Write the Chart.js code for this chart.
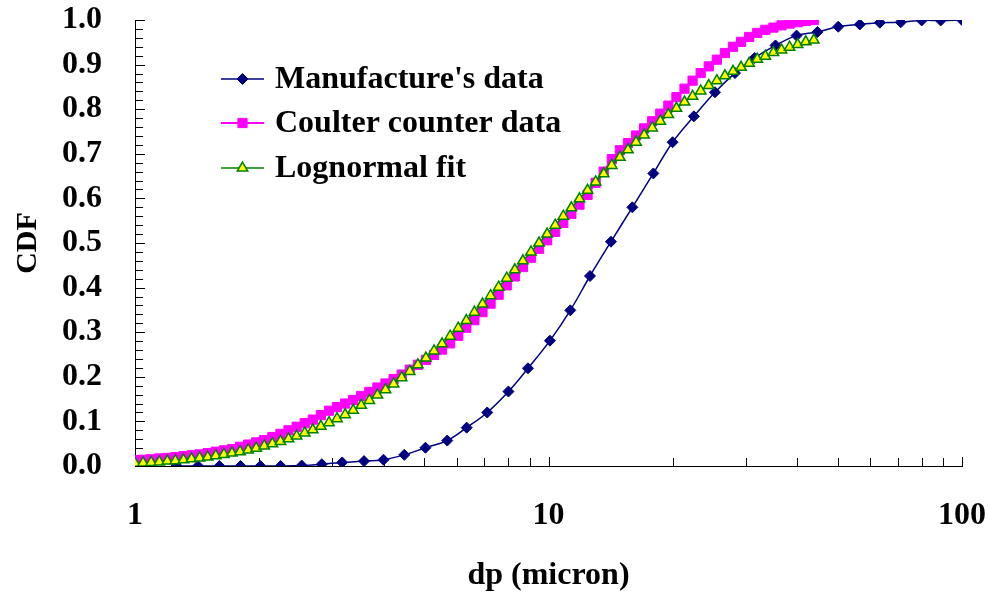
<!DOCTYPE html>
<html>
<head>
<meta charset="utf-8">
<script src="https://cdn.jsdelivr.net/npm/chart.js"></script>
<style>
  html, body { margin: 0; padding: 0; background: #fff; }
  #wrap { width: 990px; height: 595px; }
</style>
</head>
<body>
<div id="wrap"><canvas id="cdf" width="990" height="595"></canvas></div>
<script>
// particle size (micron) and cumulative fraction for each source
const makerSize = [1.26, 1.42, 1.60, 1.80, 2.01, 2.25, 2.53, 2.83, 3.17, 3.58, 3.99, 4.48, 5.04,
  5.69, 6.34, 7.11, 8.00, 8.92, 10.08, 11.29, 12.6, 14.16, 15.95, 17.93, 19.96, 22.47, 25.27,
  28.25, 31.5, 35.4, 39.8, 44.7, 50.2, 56.6, 63.3, 71.1, 79.9, 88.8, 100];
const makerCdf = [0, 0, 0, 0, 0, 0, 0.001, 0.004, 0.008, 0.011, 0.014, 0.025, 0.041,
  0.057, 0.086, 0.120, 0.167, 0.219, 0.281, 0.349, 0.426, 0.503, 0.580, 0.656, 0.726, 0.784, 0.838,
  0.881, 0.915, 0.943, 0.965, 0.973, 0.985, 0.990, 0.994, 0.995, 0.999, 0.999, 1.000];

// Coulter counter channels (shared by the measured data and the fit)
const channelSize = [1.000, 1.046, 1.094, 1.145, 1.197, 1.252, 1.310, 1.370, 1.433, 1.499,
  1.568, 1.641, 1.716, 1.795, 1.878, 1.964, 2.054, 2.149, 2.248, 2.351,
  2.460, 2.573, 2.691, 2.815, 2.945, 3.080, 3.222, 3.370, 3.525, 3.688,
  3.857, 4.035, 4.221, 4.415, 4.618, 4.831, 5.053, 5.286, 5.529, 5.783,
  6.050, 6.328, 6.619, 6.924, 7.243, 7.576, 7.925, 8.290, 8.671, 9.070,
  9.488, 9.924, 10.381, 10.859, 11.359, 11.882, 12.429, 13.001, 13.599, 14.225,
  14.880, 15.565, 16.281, 17.030, 17.814, 18.634, 19.492, 20.389, 21.328, 22.309,
  23.336, 24.410, 25.534, 26.709, 27.938, 29.224, 30.569, 31.976, 33.448, 34.988,
  36.598, 38.283, 40.045, 41.888, 43.816];
const coulterCdf = [0.013, 0.014, 0.015, 0.017, 0.018, 0.020, 0.022, 0.024, 0.026, 0.029,
  0.032, 0.035, 0.038, 0.043, 0.048, 0.053, 0.058, 0.065, 0.072, 0.080,
  0.088, 0.096, 0.104, 0.114, 0.124, 0.132, 0.140, 0.148, 0.157, 0.166,
  0.176, 0.185, 0.195, 0.205, 0.216, 0.227, 0.238, 0.249, 0.261, 0.275,
  0.292, 0.310, 0.327, 0.345, 0.364, 0.384, 0.405, 0.425, 0.446, 0.467,
  0.487, 0.506, 0.525, 0.545, 0.565, 0.586, 0.608, 0.635, 0.660, 0.688,
  0.708, 0.724, 0.741, 0.757, 0.773, 0.790, 0.808, 0.827, 0.846, 0.864,
  0.881, 0.896, 0.911, 0.926, 0.940, 0.951, 0.962, 0.971, 0.978, 0.983,
  0.988, 0.992, 0.995, 0.998, 1.000];
const lognormalCdf = [0.006, 0.007, 0.008, 0.009, 0.011, 0.012, 0.014, 0.016, 0.018, 0.020,
  0.023, 0.026, 0.029, 0.032, 0.036, 0.040, 0.045, 0.050, 0.055, 0.061,
  0.067, 0.074, 0.081, 0.089, 0.097, 0.106, 0.115, 0.125, 0.136, 0.147,
  0.159, 0.171, 0.184, 0.198, 0.212, 0.227, 0.242, 0.258, 0.274, 0.291,
  0.309, 0.326, 0.345, 0.363, 0.382, 0.401, 0.421, 0.440, 0.460, 0.480,
  0.500, 0.520, 0.540, 0.560, 0.579, 0.599, 0.618, 0.637, 0.655, 0.674,
  0.692, 0.709, 0.726, 0.742, 0.758, 0.773, 0.788, 0.802, 0.816, 0.829,
  0.841, 0.853, 0.864, 0.875, 0.885, 0.894, 0.903, 0.912, 0.919, 0.927,
  0.933, 0.939, 0.945, 0.951, 0.955];

const seriesNames = ["Manufacture's data", 'Coulter counter data', 'Lognormal fit'];
const xTicks = [1, 10, 100];
const yTicks = [0, 0.1, 0.2, 0.3, 0.4, 0.5, 0.6, 0.7, 0.8, 0.9, 1.0];

const SERIF = "'Liberation Serif', 'Times New Roman', serif";
const FONT = { family: SERIF, size: 32, weight: 'bold' };

const pts = (xs, ys) => xs.map((x, i) => ({ x: x, y: ys[i] }));

// small tick marks pointing into the plot
const innerTicks = {
  id: 'innerTicks',
  beforeDatasetsDraw(chart) {
    const { ctx, chartArea: a, scales: { x, y } } = chart;
    ctx.save();
    ctx.strokeStyle = '#000';
    ctx.lineWidth = 1;
    ctx.beginPath();
    for (let i = 0; i <= 50; i++) {
      const py = Math.round(y.getPixelForValue(i / 50)) + 0.5;
      ctx.moveTo(a.left, py);
      ctx.lineTo(a.left + (i % 5 === 0 ? 10 : 8), py);
    }
    for (const dec of [1, 10]) {
      for (let m = 1; m <= 10; m++) {
        const px = Math.round(x.getPixelForValue(dec * m)) + 0.5;
        ctx.moveTo(px, a.bottom);
        ctx.lineTo(px, a.bottom - (m === 1 || m === 10 ? 9 : 8));
      }
    }
    ctx.stroke();
    ctx.restore();
  }
};

function marker(ctx, ds, x, y) {
  const r = ds.pointRadius;
  ctx.beginPath();
  if (ds.pointStyle === 'rectRot') {
    ctx.moveTo(x - r, y); ctx.lineTo(x, y - r); ctx.lineTo(x + r, y); ctx.lineTo(x, y + r);
  } else if (ds.pointStyle === 'rect') {
    const s = r * Math.SQRT1_2;
    ctx.rect(x - s, y - s, 2 * s, 2 * s);
  } else {
    const h = r * Math.sin(Math.PI / 3);
    ctx.moveTo(x, y - r); ctx.lineTo(x + h, y + r / 2); ctx.lineTo(x - h, y + r / 2);
  }
  ctx.closePath();
  ctx.fillStyle = ds.pointBackgroundColor;
  ctx.fill();
  ctx.lineWidth = ds.pointBorderWidth;
  ctx.strokeStyle = ds.pointBorderColor;
  ctx.stroke();
}

// legend sitting inside the plot, upper left
const innerLegend = {
  id: 'innerLegend',
  afterDraw(chart) {
    const ctx = chart.ctx;
    const rows = [79, 123, 168];
    ctx.save();
    chart.data.datasets.forEach((ds, i) => {
      const y = rows[i];
      ctx.beginPath();
      ctx.moveTo(221, y);
      ctx.lineTo(264, y);
      ctx.strokeStyle = ds.borderColor;
      ctx.lineWidth = ds.borderWidth;
      ctx.stroke();
      marker(ctx, ds, 242.5, y);
      ctx.fillStyle = '#000';
      ctx.font = `bold 32px ${SERIF}`;
      ctx.textBaseline = 'middle';
      ctx.fillText(ds.label, 275, y + 1);
    });
    ctx.restore();
  }
};

new Chart(document.getElementById('cdf'), {
  type: 'scatter',
  data: {
    datasets: [
      {
        label: seriesNames[0],
        data: pts(makerSize, makerCdf),
        showLine: true,
        tension: 0.4,
        borderColor: '#000080',
        borderWidth: 1.5,
        pointStyle: 'rectRot',
        pointRadius: 5.5,
        pointBackgroundColor: '#000080',
        pointBorderColor: '#000080',
        pointBorderWidth: 1,
        order: 2
      },
      {
        label: seriesNames[1],
        data: pts(channelSize, coulterCdf),
        showLine: true,
        borderColor: '#ff00ff',
        borderWidth: 2,
        pointStyle: 'rect',
        pointRadius: 6.5,
        pointBackgroundColor: '#ff00ff',
        pointBorderColor: '#ff00ff',
        pointBorderWidth: 1,
        order: 1
      },
      {
        label: seriesNames[2],
        data: pts(channelSize, lognormalCdf),
        showLine: true,
        borderColor: '#008000',
        borderWidth: 1.5,
        pointStyle: 'triangle',
        pointRadius: 6,
        pointBackgroundColor: '#ffff00',
        pointBorderColor: '#008000',
        pointBorderWidth: 1.5,
        order: 0
      }
    ]
  },
  options: {
    responsive: false,
    animation: false,
    layout: { padding: { left: 0, top: 20, right: 28, bottom: 0 } },
    plugins: { legend: { display: false }, tooltip: { enabled: false } },
    scales: {
      x: {
        type: 'logarithmic',
        min: 1,
        max: 100,
        afterBuildTicks: (s) => { s.ticks = xTicks.map(v => ({ value: v })); },
        afterFit: (s) => { s.height = 129; s.paddingLeft = 0; s.paddingRight = 0; },
        ticks: { color: '#000', font: FONT, padding: 31, maxRotation: 0, callback: (v) => String(v) },
        grid: { display: true, drawOnChartArea: false, drawTicks: false, color: 'rgba(0,0,0,0)' },
        border: { display: true, color: '#000', width: 1 },
        title: { display: true, text: 'dp (micron)', color: '#000', font: FONT, padding: { top: 0, bottom: 0 } }
      },
      y: {
        min: 0,
        max: 1,
        afterBuildTicks: (s) => { s.ticks = yTicks.map(v => ({ value: v })); },
        afterFit: (s) => { s.width = 135; s.paddingTop = 0; s.paddingBottom = 0; },
        ticks: { color: '#000', font: FONT, padding: 33, callback: (v) => v.toFixed(1) },
        grid: { display: true, drawOnChartArea: false, drawTicks: false, color: 'rgba(0,0,0,0)' },
        border: { display: true, color: '#000', width: 1 },
        title: { display: true, text: 'CDF', color: '#000', font: { family: SERIF, size: 30, weight: 'bold' }, padding: { top: 10, bottom: 0 } }
      }
    }
  },
  plugins: [innerTicks, innerLegend]
});
</script>
</body>
</html>
